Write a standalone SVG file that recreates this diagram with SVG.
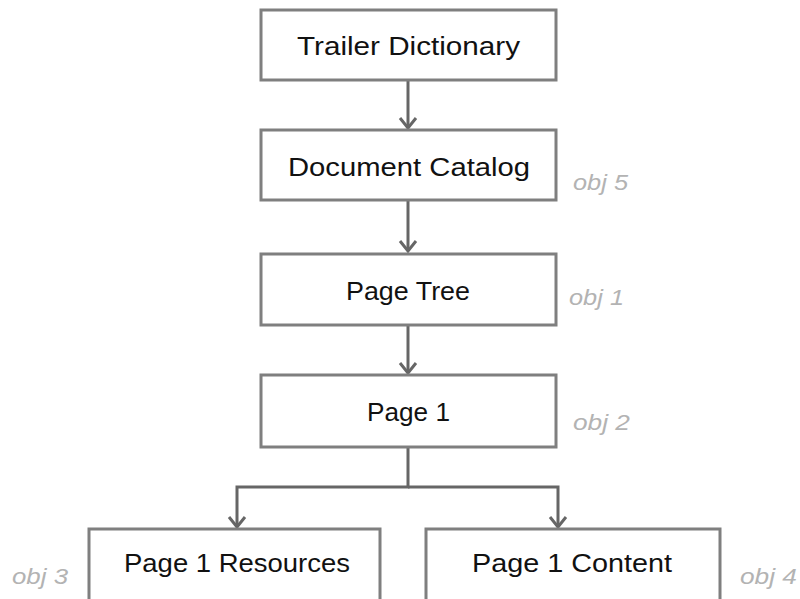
<svg xmlns="http://www.w3.org/2000/svg" width="800" height="599" viewBox="0 0 800 599">
<defs>
<style>
.box{fill:#fff;stroke:#7f7f7f;stroke-width:3}
.lbl{font-family:"Liberation Sans","DejaVu Sans",sans-serif;font-size:25px;fill:#111;text-anchor:middle}
.obj{font-family:"Liberation Sans","DejaVu Sans",sans-serif;font-size:22px;font-style:italic;fill:#b3b3b3}
.conn{fill:none;stroke:#666;stroke-width:3}
</style>
<marker id="arr" viewBox="0 0 20 20" refX="18" refY="10" markerWidth="20" markerHeight="20" markerUnits="userSpaceOnUse" orient="auto">
<path d="M8,2 L18,10 L8,18" fill="none" stroke="#666" stroke-width="3"/>
</marker>
</defs>
<rect width="800" height="599" fill="#fff"/>
<g id="connectors">
<path class="conn" d="M408,80 V128" marker-end="url(#arr)"/>
<path class="conn" d="M408,200 V251" marker-end="url(#arr)"/>
<path class="conn" d="M408,325 V373" marker-end="url(#arr)"/>
<path class="conn" d="M408,447 V487 H237 V527" marker-end="url(#arr)"/>
<path class="conn" d="M408,487 H558 V527" marker-end="url(#arr)"/>
</g>
<g id="trailer">
<rect class="box" x="261" y="10" width="295" height="70"/>
<text class="lbl" x="408.5" y="55" textLength="223" lengthAdjust="spacingAndGlyphs">Trailer Dictionary</text>
</g>
<g id="catalog">
<rect class="box" x="261" y="130" width="295" height="70"/>
<text class="lbl" x="409" y="176" textLength="242" lengthAdjust="spacingAndGlyphs">Document Catalog</text>
<text class="obj" x="573" y="190" textLength="55" lengthAdjust="spacingAndGlyphs">obj 5</text>
</g>
<g id="pagetree">
<rect class="box" x="261" y="254" width="295" height="71"/>
<text class="lbl" x="408" y="300" textLength="124" lengthAdjust="spacingAndGlyphs">Page Tree</text>
<text class="obj" x="569" y="305" textLength="55" lengthAdjust="spacingAndGlyphs">obj 1</text>
</g>
<g id="page1">
<rect class="box" x="261" y="375" width="295" height="72"/>
<text class="lbl" x="408.5" y="421" textLength="83" lengthAdjust="spacingAndGlyphs">Page 1</text>
<text class="obj" x="573" y="430" textLength="57" lengthAdjust="spacingAndGlyphs">obj 2</text>
</g>
<g id="resources">
<rect class="box" x="89" y="529" width="291" height="75"/>
<text class="lbl" x="237" y="572" textLength="226" lengthAdjust="spacingAndGlyphs">Page 1 Resources</text>
<text class="obj" x="12" y="584" textLength="56" lengthAdjust="spacingAndGlyphs">obj 3</text>
</g>
<g id="content">
<rect class="box" x="426" y="529" width="294" height="75"/>
<text class="lbl" x="572" y="572" textLength="200" lengthAdjust="spacingAndGlyphs">Page 1 Content</text>
<text class="obj" x="740" y="584" textLength="57" lengthAdjust="spacingAndGlyphs">obj 4</text>
</g>
</svg>
